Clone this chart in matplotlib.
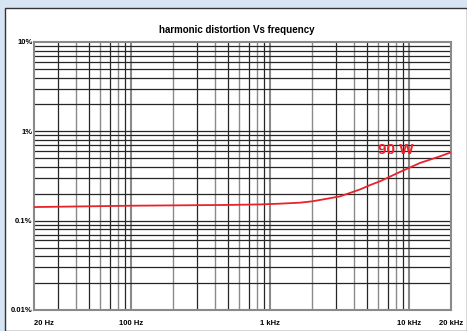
import numpy as np
import matplotlib
matplotlib.use("Agg")
import matplotlib.pyplot as plt
from matplotlib.patches import Rectangle

plt.rcParams['font.family'] = ['Liberation Sans', 'DejaVu Sans']

freq_hz = [20, 100, 500, 845, 1177, 1640, 2000, 2284, 3180, 4430, 5226, 6165, 8590, 11970, 16670, 20000]
thd_pct = [0.142, 0.147, 0.150, 0.152, 0.155, 0.159, 0.1645, 0.1705, 0.187, 0.2235, 0.250, 0.2756, 0.351, 0.4426, 0.525, 0.582]
x_ticks = [20, 100, 1000, 10000, 20000]
x_labels = ["20 Hz", "100 Hz", "1 kHz", "10 kHz", "20 kHz"]
y_ticks = [0.01, 0.1, 1, 10]
y_labels = ["0.01%", "0.1%", "1%", "10%"]
title = "harmonic distortion Vs frequency"
series_label = "90 W"

W, H = 467, 331
fig = plt.figure(figsize=(W/100, H/100), dpi=100)
fig.patch.set_facecolor("#d6e4f3")
fig.patches.append(Rectangle((5/W, 0), 1 - 5/W, 1 - 8/H, transform=fig.transFigure,
                             facecolor="white", edgecolor="#333333", linewidth=1.0, zorder=-10))

ax = fig.add_axes([34/W, 1 - 310/H, (451-34)/W, (310-42)/H])
ax.set_zorder(5)
ax.set_xscale("log")
ax.set_yscale("log")
ax.set_xlim(20, 20000)
ax.set_ylim(0.01, 10)
ax.set_facecolor("white")

# vertical grid
for dec in [10, 100, 1000, 10000]:
    for m in range(1, 10):
        f = dec * m
        if f <= 20 or f >= 20000:
            continue
        if m == 1:
            ax.axvline(f, color="#8a8a8a", lw=1.5, zorder=1)
        elif m % 2 == 0:
            ax.axvline(f, color="#8a8a8a", lw=1.0, zorder=1)
        else:
            ax.axvline(f, color="#262626", lw=0.9, zorder=1)
# horizontal grid
for dec in [0.01, 0.1, 1]:
    for m in range(1, 10):
        v = dec * m
        if v <= 0.01:
            continue
        ax.axhline(v, color="#262626", lw=0.9, zorder=1)

for s in ax.spines.values():
    s.set_color("#8a8a8a")
    s.set_linewidth(1.5)

ax.plot(freq_hz, thd_pct, color="#e8232b", lw=1.3, zorder=3)
ax.text(7980, 0.616, series_label, color="#e8232b", fontsize=11, fontweight="bold",
        ha="center", va="center", zorder=4)

ax.set_xticks(x_ticks)
ax.set_xticklabels(x_labels)
ax.set_yticks(y_ticks)
ax.set_yticklabels(y_labels)
ax.xaxis.set_minor_locator(matplotlib.ticker.NullLocator())
ax.yaxis.set_minor_locator(matplotlib.ticker.NullLocator())
ax.tick_params(axis="both", length=0, labelsize=5.5)
ax.tick_params(axis="x", pad=7)
ax.tick_params(axis="y", pad=1)
for lab in ax.get_xticklabels() + ax.get_yticklabels():
    lab.set_fontweight("bold")
xl = ax.get_xticklabels()
xl[0].set_horizontalalignment("left")
xl[0].set_x(20)
ax.get_xticklabels()[0].set_ha("left")

fig.text(237/W, 1 - 30/H, title, ha="center", va="center", fontsize=7, fontweight="bold")

fig.savefig("out.png", dpi=100, facecolor=fig.get_facecolor())
